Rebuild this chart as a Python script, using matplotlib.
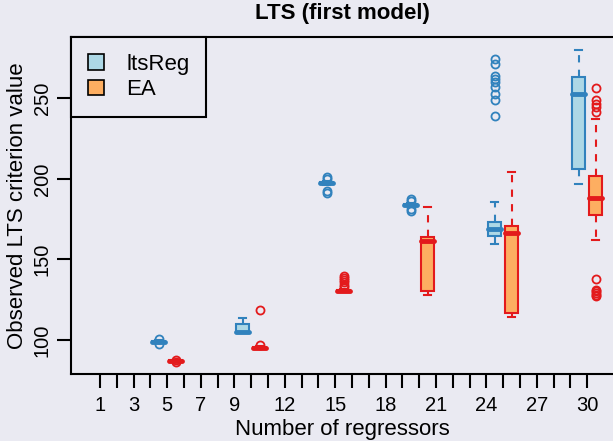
import matplotlib.pyplot as plt
import numpy as np

# Data (box statistics)
n_regressors = [5, 10, 15, 20, 25, 30]
tick_pos = list(range(1, 31))
shown_labels = [1, 3, 5, 7, 9, 12, 15, 18, 21, 24, 27, 30]
tick_labels = [str(i) if i in shown_labels else "" for i in tick_pos]

lts_med = [98.9, 105.1, 197.2, 184.1, 168.8, 252.9]
lts_q1 = [98.6, 104.8, 196.8, 183.7, 164.4, 206.4]
lts_q3 = [99.3, 110.1, 197.8, 184.6, 173.3, 263.1]
lts_lo = [98.3, 104.6, 196.3, 183.2, 159.9, 196.6]
lts_hi = [99.7, 113.8, 198.4, 185.0, 185.7, 280.1]
lts_fliers = [[100.6, 97.8], [], [201.3, 200.2, 192.8, 191.2], [187.6, 186.5, 181.4, 180.3],
              [274.5, 271.5, 264, 262, 260, 257, 253, 249, 239], []]

ea_med = [87.0, 95.0, 130.5, 161.3, 166.5, 188.4]
ea_q1 = [86.8, 94.7, 130.2, 130.4, 116.9, 177.4]
ea_q3 = [87.3, 95.5, 131.0, 164.0, 170.6, 201.6]
ea_lo = [86.5, 94.5, 129.9, 127.9, 114.5, 162.2]
ea_hi = [87.6, 96.0, 131.6, 182.6, 204.5, 237.3]
ea_fliers = [[87.9, 86.1], [118.6, 96.7], [140.0, 138.6, 137.2, 135.8, 134.4, 133.0],
             [], [], [256.3, 248.7, 246.6, 244.6, 241.5, 137.6, 131.3, 130.2, 129.1, 128.0, 127.1]]

bg = "#EAEAF2"
blue, blue_fill = "#3182BD", "#ADD8E6"
red, red_fill = "#E31A1C", "#FDAE61"

plt.rcParams['font.family'] = ['Liberation Sans', 'DejaVu Sans']

fig = plt.figure(figsize=(6.13, 4.41), dpi=100, facecolor=bg)
ax = fig.add_axes([71/613, 1 - 374/441, 1 - 71/613, (374 - 37)/441], facecolor=bg)


def make_stats(med, q1, q3, lo, hi, fl):
    return [dict(med=m, q1=a, q3=b, whislo=l, whishi=h, fliers=f)
            for m, a, b, l, h, f in zip(med, q1, q3, lo, hi, fl)]


def draw(stats, pos, edge, fill):
    ax.bxp(stats, positions=pos, widths=0.78, capwidths=0.42, patch_artist=True,
           boxprops=dict(facecolor=fill, edgecolor=edge, linewidth=1.5),
           medianprops=dict(color=edge, linewidth=3.5, solid_capstyle='round'),
           whiskerprops=dict(color=edge, linewidth=1.5, linestyle=(0, (3.5, 3.5))),
           capprops=dict(color=edge, linewidth=1.5),
           flierprops=dict(marker='o', markerfacecolor='none', markeredgecolor=edge,
                           markersize=5.8, markeredgewidth=1.3),
           manage_ticks=False)


pos = np.array(n_regressors, dtype=float)
draw(make_stats(lts_med, lts_q1, lts_q3, lts_lo, lts_hi, lts_fliers), pos - 0.5, blue, blue_fill)
draw(make_stats(ea_med, ea_q1, ea_q3, ea_lo, ea_hi, ea_fliers), pos + 0.5, red, red_fill)

ax.set_xlim(-0.73, 31.54)
ax.set_ylim(78.9, 288.1)

ax.set_xticks(tick_pos)
ax.set_xticklabels(tick_labels)
ax.set_yticks([100, 150, 200, 250])
ax.set_yticklabels(["100", "150", "200", "250"], rotation=90, va='center')
ax.tick_params(axis='both', direction='out', length=10, width=1.5, labelsize=14.5)
ax.tick_params(axis='x', pad=6)
ax.tick_params(axis='y', pad=4)

for side in ['left', 'bottom', 'top']:
    ax.spines[side].set_linewidth(1.5)
ax.spines['right'].set_visible(False)

ax.set_xlabel("Number of regressors", fontsize=16, labelpad=3)
ax.set_ylabel("Observed LTS criterion value", fontsize=16, labelpad=3)
fig.text(342/613, 1 - 13/441, "LTS (first model)", fontsize=16, fontweight='bold',
         ha='center', va='center')

handles = [plt.Rectangle((0, 0), 1, 1, facecolor=blue_fill, edgecolor='black', linewidth=1.2),
           plt.Rectangle((0, 0), 1, 1, facecolor=red_fill, edgecolor='black', linewidth=1.2)]
leg = ax.legend(handles, ["ltsReg", "EA"], loc='upper left', bbox_to_anchor=(0, 1),
                borderaxespad=0, fontsize=16, handlelength=0.75, handleheight=0.7,
                handletextpad=1.0, labelspacing=0.2, borderpad=0.75,
                fancybox=False, framealpha=1, facecolor=bg, edgecolor='black')
leg.get_frame().set_linewidth(1.5)

plt.savefig('out.png', dpi=100, facecolor=bg)
